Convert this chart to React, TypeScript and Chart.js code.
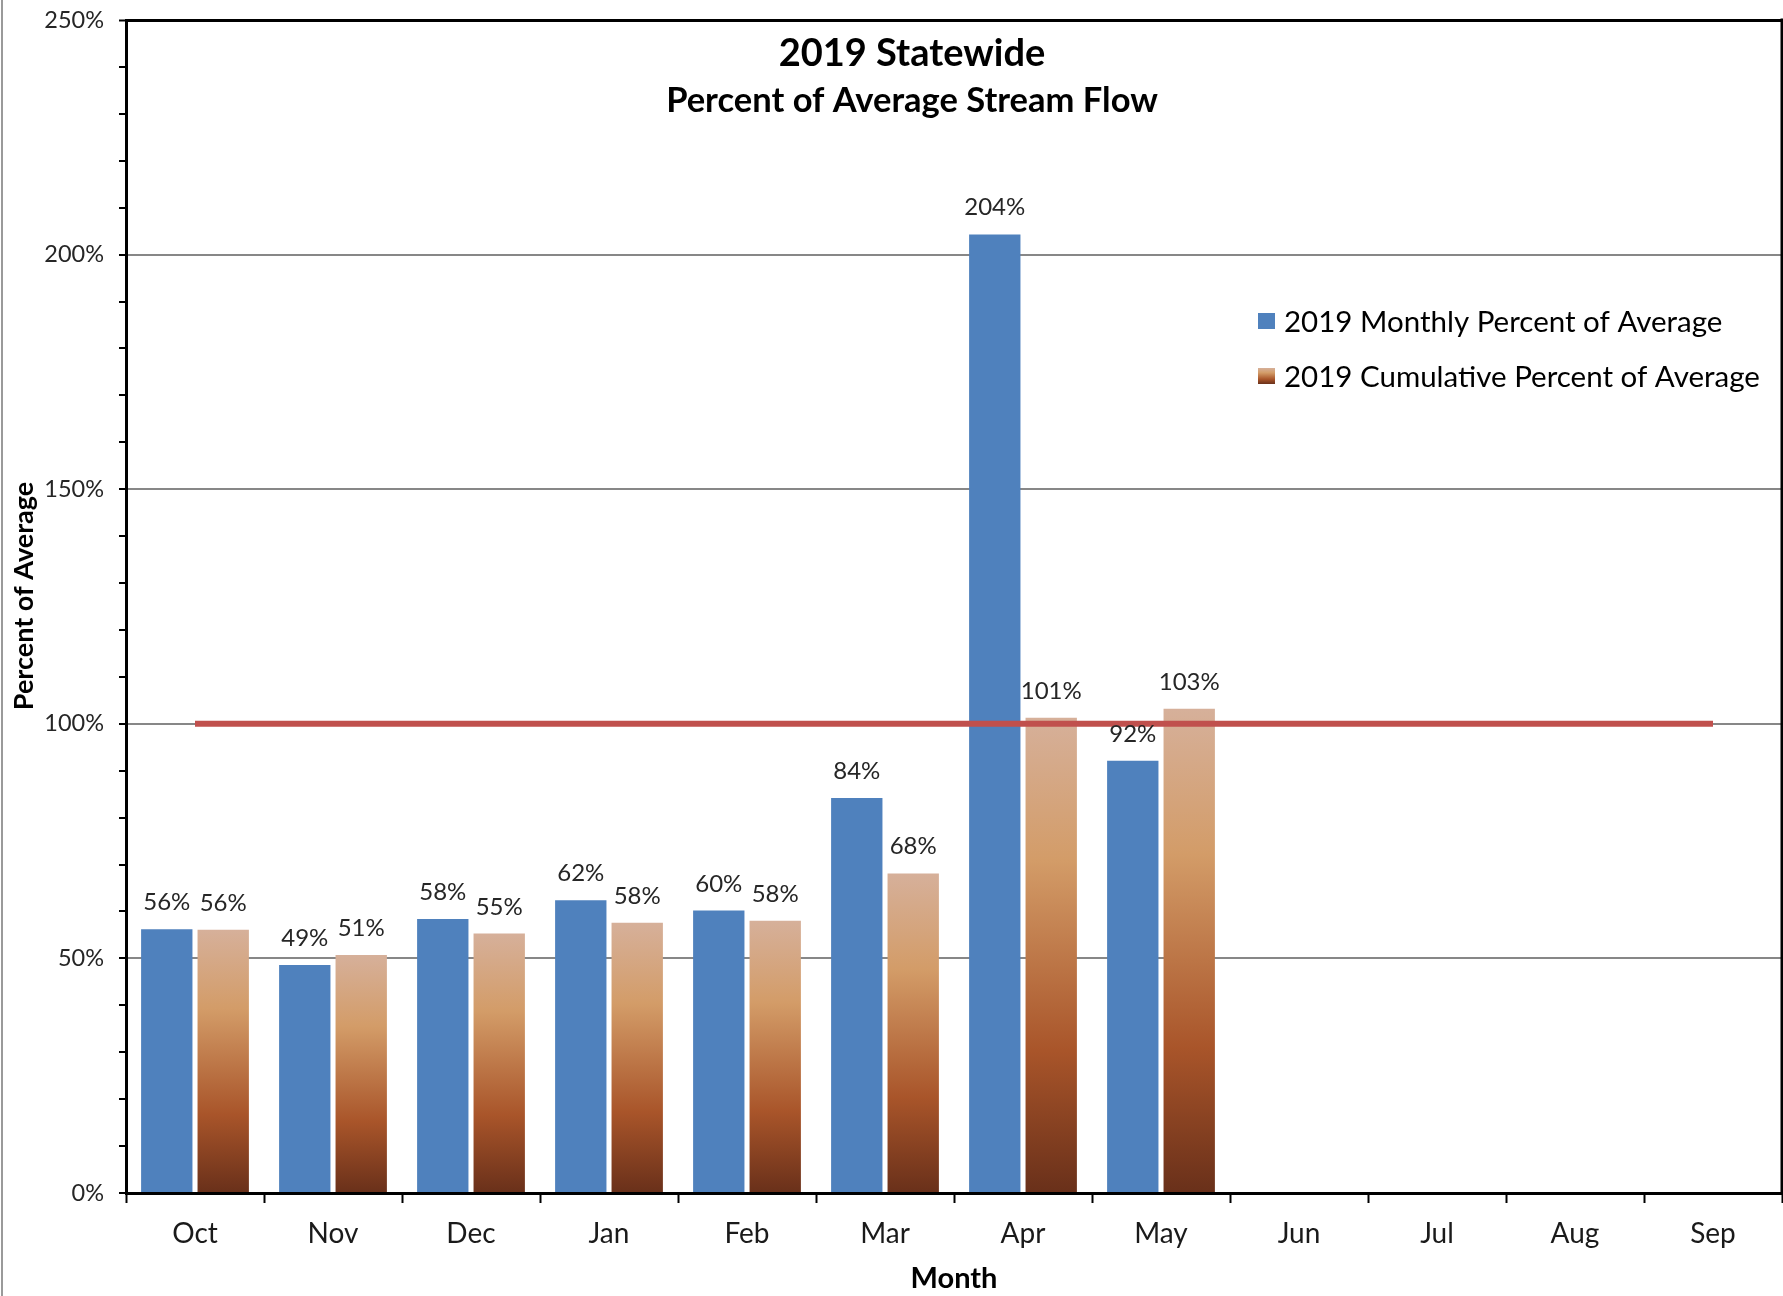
import React, { useEffect, useRef } from 'react';
import { Chart, registerables } from 'chart.js';

Chart.register(...registerables);

const months = ['Oct', 'Nov', 'Dec', 'Jan', 'Feb', 'Mar', 'Apr', 'May', 'Jun', 'Jul', 'Aug', 'Sep'];
const monthlyPct: (number | null)[] = [56.2, 48.6, 58.4, 62.4, 60.2, 84.2, 204.3, 92.1, null, null, null, null];
const cumulativePct: (number | null)[] = [56.1, 50.7, 55.3, 57.6, 58.0, 68.1, 101.3, 103.2, null, null, null, null];
const averageLine = [100, 100, 100, 100, 100, 100, 100, 100, 100, 100, 100, 100];
const majorTicks = [0, 50, 100, 150, 200, 250];
const seriesNames = ['2019 Monthly Percent of Average', '2019 Cumulative Percent of Average'];
const titleLines = ['2019 Statewide', 'Percent of Average Stream Flow'];
const yAxisTitle = 'Percent of Average';
const xAxisTitle = 'Month';

const FONT = 'Lato, "Open Sans", sans-serif';
const BLUE = '#4F81BD';
const RED = '#C0504D';

function cumGradient(c: any) {
  const chart = c.chart;
  const y = chart.scales && chart.scales.y;
  const v = c.raw;
  if (!y || v == null || !chart.chartArea) return '#C98A5A';
  const top = y.getPixelForValue(v);
  const bot = y.getPixelForValue(0);
  if (!isFinite(top) || !isFinite(bot)) return '#C98A5A';
  const g = chart.ctx.createLinearGradient(0, top, 0, bot);
  g.addColorStop(0, '#D6B09A');
  g.addColorStop(0.3, '#D39C68');
  g.addColorStop(0.7, '#A9552A');
  g.addColorStop(1, '#69301A');
  return g;
}

const decor = {
  id: 'decor',
  afterDatasetsDraw(chart: any) {
    const ctx = chart.ctx;
    ctx.save();
    ctx.font = `24px ${FONT}`;
    ctx.fillStyle = '#262626';
    ctx.textAlign = 'center';
    ctx.textBaseline = 'alphabetic';
    [0, 1].forEach((di) => {
      const meta = chart.getDatasetMeta(di);
      const data = chart.data.datasets[di].data;
      meta.data.forEach((bar: any, i: number) => {
        const v = data[i];
        if (v == null) return;
        ctx.fillText(`${Math.round(v)}%`, bar.x, bar.y - 19);
      });
    });
    ctx.restore();
  },
  afterDraw(chart: any) {
    const ctx = chart.ctx;
    const a = chart.chartArea;
    ctx.save();
    // outer gray frame at left
    ctx.strokeStyle = '#9A9A9A';
    ctx.lineWidth = 2;
    ctx.beginPath();
    ctx.moveTo(2, 0);
    ctx.lineTo(2, chart.height);
    ctx.stroke();
    // right border of plot
    ctx.strokeStyle = '#000';
    ctx.lineWidth = 3;
    ctx.beginPath();
    ctx.moveTo(a.right, a.top - 1.5);
    ctx.lineTo(a.right, a.bottom);
    ctx.stroke();
    // y axis title
    ctx.fillStyle = '#000';
    ctx.save();
    ctx.translate(24, 596);
    ctx.rotate(-Math.PI / 2);
    ctx.textAlign = 'center';
    ctx.textBaseline = 'middle';
    ctx.font = `bold 27px ${FONT}`;
    ctx.fillText(yAxisTitle, 0, 0);
    ctx.restore();
    // title
    ctx.textAlign = 'center';
    ctx.textBaseline = 'middle';
    ctx.font = `bold 38px ${FONT}`;
    ctx.fillText(titleLines[0], 912, 54);
    ctx.font = `bold 34.5px ${FONT}`;
    ctx.fillText(titleLines[1], 912, 101);
    // legend
    ctx.textAlign = 'left';
    ctx.font = `29.5px ${FONT}`;
    const lx = 1258;
    const rows = [321, 376];
    rows.forEach((ry, i) => {
      if (i === 0) {
        ctx.fillStyle = BLUE;
      } else {
        const g = ctx.createLinearGradient(0, ry - 8, 0, ry + 8);
        g.addColorStop(0, '#D6B09A');
        g.addColorStop(0.3, '#D39C68');
        g.addColorStop(0.7, '#A9552A');
        g.addColorStop(1, '#69301A');
        ctx.fillStyle = g;
      }
      ctx.fillRect(lx, ry - 8, 17, 16);
      ctx.fillStyle = '#000';
      ctx.fillText(seriesNames[i], lx + 26, ry + 1);
    });
    ctx.restore();
  },
};

export default function App() {
  const ref = useRef<HTMLCanvasElement | null>(null);
  useEffect(() => {
    if (!ref.current) return;
    const chart = new Chart(ref.current, {
      type: 'bar',
      data: {
        labels: months,
        datasets: [
          {
            label: seriesNames[0],
            data: monthlyPct,
            backgroundColor: BLUE,
            categoryPercentage: 0.818,
            barPercentage: 0.91,
            order: 1,
          } as any,
          {
            label: seriesNames[1],
            data: cumulativePct,
            backgroundColor: cumGradient,
            categoryPercentage: 0.818,
            barPercentage: 0.91,
            order: 1,
          } as any,
          {
            type: 'line',
            label: 'Average',
            data: averageLine,
            borderColor: RED,
            borderWidth: 6,
            pointRadius: 0,
            fill: false,
            order: 0,
          } as any,
        ],
      },
      options: {
        responsive: false,
        animation: false,
        layout: { padding: { left: 0, right: 1, top: 20, bottom: 0 } },
        plugins: {
          legend: { display: false },
          title: { display: false },
          tooltip: { enabled: false },
        },
        scales: {
          x: {
            offset: true,
            grid: {
              offset: true,
              drawOnChartArea: false,
              drawTicks: true,
              tickLength: 10,
              tickColor: '#000',
              tickWidth: 2,
            },
            border: { display: true, color: '#000', width: 3 },
            ticks: {
              color: '#1a1a1a',
              font: { family: FONT, size: 28 },
              padding: 14,
              autoSkip: false,
              maxRotation: 0,
            },
            title: {
              display: true,
              text: xAxisTitle,
              color: '#000',
              font: { family: FONT, size: 29, weight: 'bold' },
              padding: { top: 0, bottom: 0 },
            },
            afterFit: (s: any) => {
              s.height = 103;
            },
          },
          y: {
            min: 0,
            max: 250,
            ticks: {
              stepSize: 10,
              autoSkip: false,
              color: '#262626',
              font: { family: FONT, size: 23.5 },
              padding: 15,
              callback: (v: any) => (majorTicks.includes(Number(v)) ? `${v}%` : ''),
            },
            grid: {
              color: (c: any) => {
                const v = c.tick && c.tick.value;
                if (v === 250) return '#000';
                if (v === 0) return 'rgba(0,0,0,0)';
                return majorTicks.includes(v) ? '#878787' : 'rgba(0,0,0,0)';
              },
              lineWidth: (c: any) => (c.tick && c.tick.value === 250 ? 3 : 2),
              drawTicks: true,
              tickLength: 7,
              tickColor: '#000',
              tickWidth: 2,
            },
            border: { display: true, color: '#000', width: 3 },
            title: { display: false },
            afterFit: (s: any) => {
              s.width = 126;
              s.paddingTop = 8;
              s.paddingBottom = 8;
            },
          },
        },
      },
      plugins: [decor],
    });
    return () => chart.destroy();
  }, []);
  return (
    <div style={{ position: 'absolute', left: 0, top: 0, width: 1783, height: 1296, background: '#fff' }}>
      <canvas ref={ref} width={1783} height={1296} style={{ display: 'block' }} />
    </div>
  );
}
